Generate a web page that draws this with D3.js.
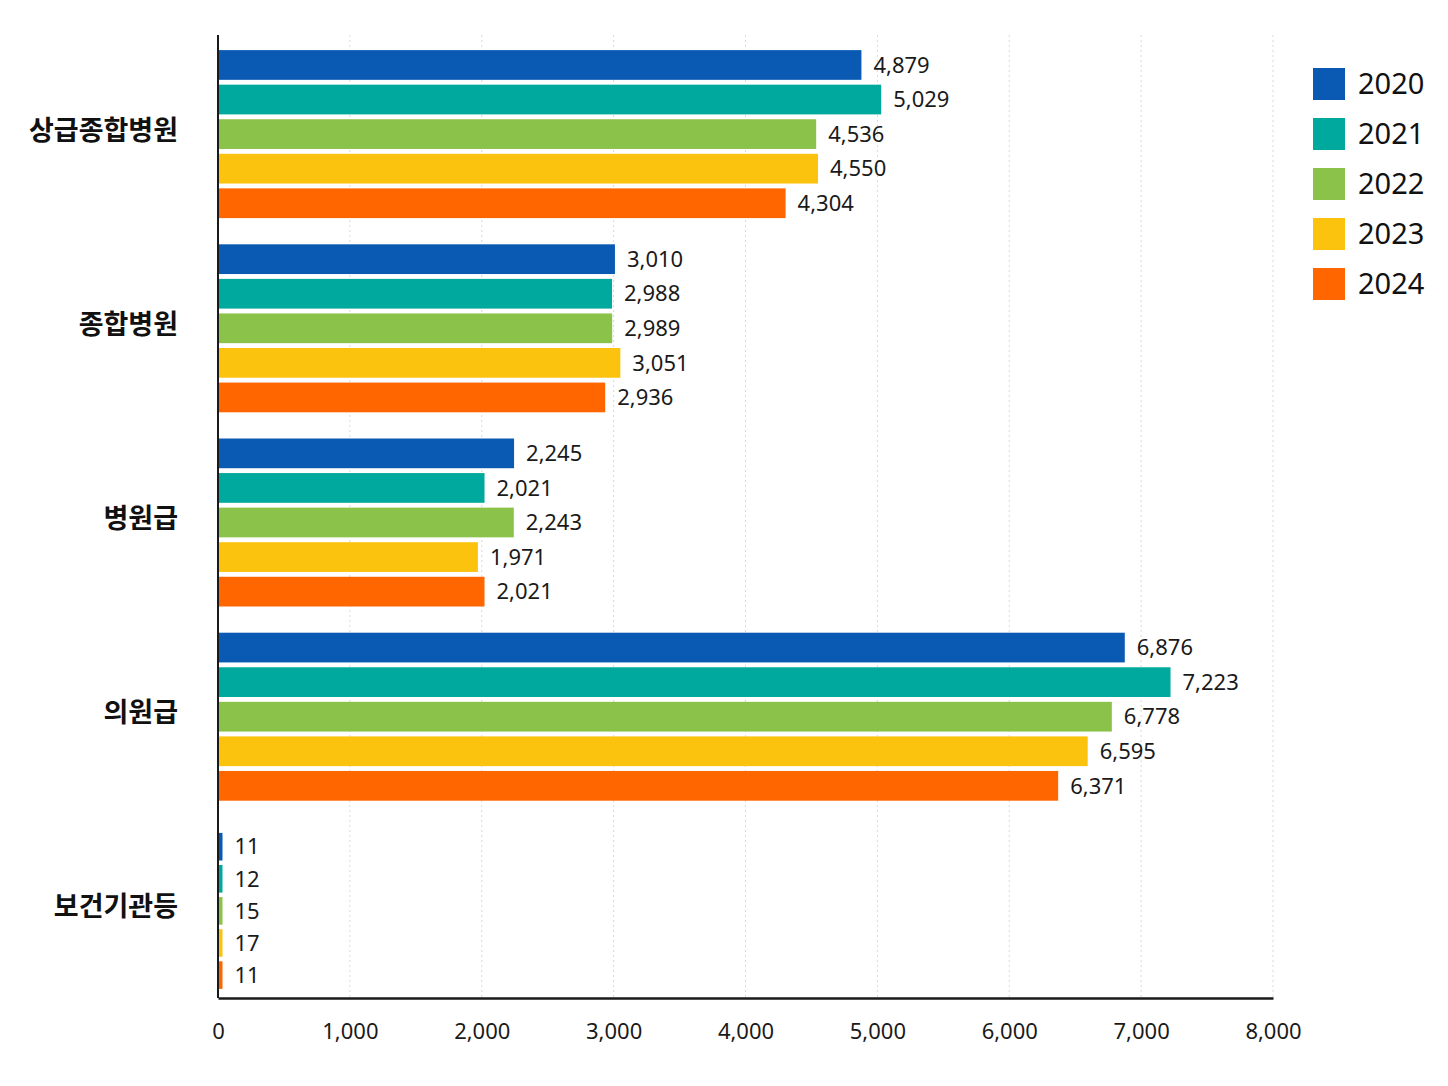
<!DOCTYPE html>
<html lang="ko">

<head>
    <meta charset="UTF-8">
    <title>hospitals</title>
    <style>
        body {
            margin: 0;
            background: #fff;
        }
    </style>
</head>

<body>
    <script src="https://d3js.org/d3.v7.min.js"></script>
    <div id="chart"></div>
    <script>
        // data
        var categories = ["상급종합병원", "종합병원", "병원급", "의원급", "보건기관등"];
        var years = ["2020", "2021", "2022", "2023", "2024"];
        var v2020 = [4879, 3010, 2245, 6876, 11];
        var v2021 = [5029, 2988, 2021, 7223, 12];
        var v2022 = [4536, 2989, 2243, 6778, 15];
        var v2023 = [4550, 3051, 1971, 6595, 17];
        var v2024 = [4304, 2936, 2021, 6371, 11];
        var xTicks = [0, 1000, 2000, 3000, 4000, 5000, 6000, 7000, 8000];
        var colors = ["#0a5ab4", "#00a99e", "#8bc34a", "#fcc30e", "#ff6600"];

        var series = [v2020, v2021, v2022, v2023, v2024];

        var width = 1448, height = 1086;
        var plotLeft = 218, plotRight = 1273, plotTop = 35, plotBottom = 998;

        var svg = d3.select("#chart")
            .append("svg")
            .attr("width", width)
            .attr("height", height);

        var x = d3.scaleLinear()
            .domain([0, 8000])
            .range([plotLeft, plotRight]);

        var y = d3.scaleBand()
            .domain(categories)
            .range([plotTop + 2, plotBottom + 10]);

        var numFont = "'Noto Sans', 'Open Sans', sans-serif";

        // dotted grid
        svg.append("g")
            .selectAll("line")
            .data(xTicks.slice(1))
            .enter()
            .append("line")
            .attr("x1", function (d) { return x(d) })
            .attr("x2", function (d) { return x(d) })
            .attr("y1", plotTop)
            .attr("y2", plotBottom)
            .attr("stroke", "#d9d9d9")
            .attr("stroke-width", 1)
            .attr("stroke-dasharray", "2,3");

        // bars
        categories.forEach(function (cat, ci) {
            var c = y(cat) + y.bandwidth() / 2;
            var half = ci === categories.length - 1 ? 78 : 84;
            var inner = d3.scaleBand()
                .domain(years)
                .range([c - half, c + half])
                .paddingInner(0.14);

            var rows = years.map(function (yr, i) {
                return { year: yr, value: series[i][ci], color: colors[i] };
            });

            var g = svg.append("g");
            g.selectAll("rect")
                .data(rows)
                .enter()
                .append("rect")
                .attr("x", x(0))
                .attr("y", function (d) { return inner(d.year) })
                .attr("width", function (d) { return Math.max(x(d.value) - x(0), 4.5) })
                .attr("height", inner.bandwidth())
                .attr("fill", function (d) { return d.color });

            g.selectAll("text")
                .data(rows)
                .enter()
                .append("text")
                .attr("x", function (d) { return x(0) + Math.max(x(d.value) - x(0), 4.5) + 12 })
                .attr("y", function (d) { return inner(d.year) + inner.bandwidth() / 2 })
                .attr("dy", "0.35em")
                .attr("font-family", numFont)
                .attr("font-size", 22)
                .attr("fill", "#1a1a1a")
                .text(function (d) { return d3.format(",")(d.value) });
        });

        // category labels
        svg.append("g")
            .selectAll("text")
            .data(categories)
            .enter()
            .append("text")
            .attr("x", 178)
            .attr("y", function (d) { return y(d) + y.bandwidth() / 2 - 4 })
            .attr("dy", "0.35em")
            .attr("text-anchor", "end")
            .attr("font-family", "'Noto Sans CJK KR', sans-serif")
            .attr("font-weight", "bold")
            .attr("font-size", 27)
            .attr("fill", "#111")
            .text(function (d) { return d });

        // axes lines
        svg.append("line")
            .attr("x1", plotLeft).attr("x2", plotLeft)
            .attr("y1", plotTop).attr("y2", plotBottom)
            .attr("stroke", "#1a1a1a").attr("stroke-width", 2);

        var xAxis = svg.append("g")
            .attr("transform", "translate(0," + plotBottom + ")")
            .call(d3.axisBottom(x).tickValues(xTicks).tickSize(0).tickPadding(25)
                .tickFormat(d3.format(",")));
        xAxis.select(".domain").attr("stroke", "#1a1a1a").attr("stroke-width", 2.5);
        xAxis.selectAll("text")
            .attr("font-family", numFont)
            .attr("font-size", 22)
            .attr("fill", "#1a1a1a");

        // legend
        var legend = svg.append("g")
            .attr("transform", "translate(1313,68)");
        var items = legend.selectAll("g")
            .data(years)
            .enter()
            .append("g")
            .attr("transform", function (d, i) { return "translate(0," + (i * 50) + ")" });
        items.append("rect")
            .attr("width", 32)
            .attr("height", 32)
            .attr("fill", function (d, i) { return colors[i] });
        items.append("text")
            .attr("x", 45)
            .attr("y", 16)
            .attr("dy", "0.36em")
            .attr("font-family", numFont)
            .attr("font-size", 29)
            .attr("fill", "#111")
            .text(function (d) { return d });
    </script>
</body>

</html>
